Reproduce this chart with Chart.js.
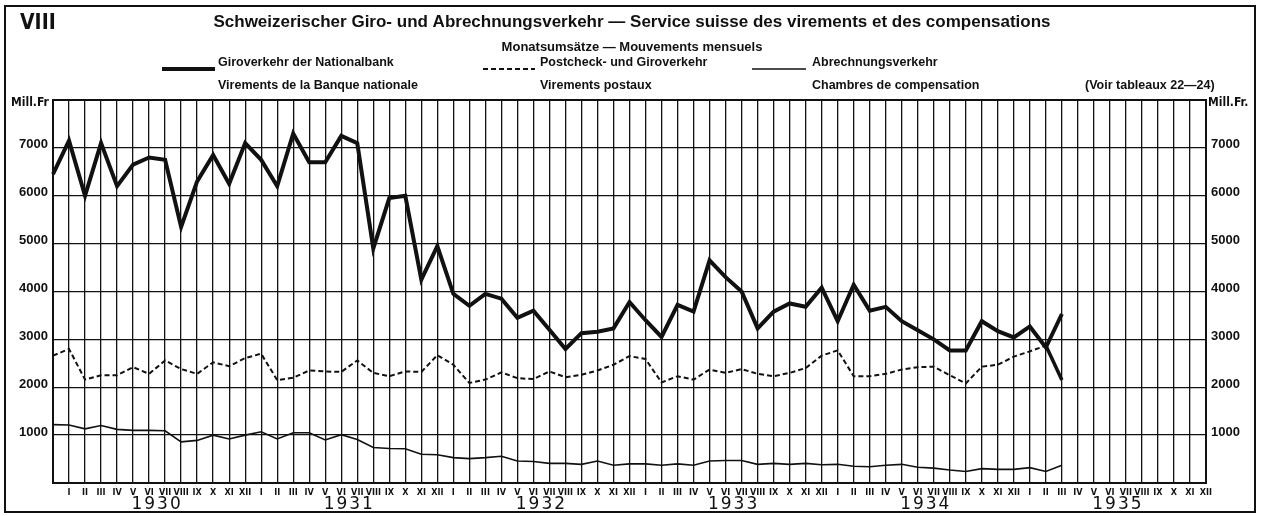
<!DOCTYPE html>
<html>
<head>
<meta charset="utf-8">
<script src="https://cdn.jsdelivr.net/npm/chart.js@4"></script>
<style>
html, body { margin: 0; padding: 0; background: #fff; }
#wrap { width: 1261px; height: 516px; }
</style>
</head>
<body>
<div id="wrap"><canvas id="chart"></canvas></div>
<script>
const years = ['1930', '1931', '1932', '1933', '1934', '1935'];
const monthNames = ['I', 'II', 'III', 'IV', 'V', 'VI', 'VII', 'VIII', 'IX', 'X', 'XI', 'XII'];
const yTicks = [1000, 2000, 3000, 4000, 5000, 6000, 7000];

// Mill. Fr., Dez. 1929 bis März 1935
const giro = [6450, 7150, 6000, 7100, 6200, 6650, 6800, 6750, 5350, 6300, 6850, 6250, 7100,
    6750, 6200, 7300, 6700, 6700, 7250, 7100, 4900, 5950, 6000, 4250, 4950,
    3950, 3700, 3950, 3850, 3450, 3600, 3200, 2800, 3130, 3160, 3230, 3780,
    3400, 3050, 3720, 3580, 4650, 4300, 4000, 3230, 3580, 3750, 3680, 4080,
    3380, 4140, 3600, 3680, 3380, 3190, 3000, 2770, 2770, 3380, 3170, 3040,
    3270, 2830, 3530];
const postal = [2660, 2800, 2160, 2250, 2250, 2420, 2280, 2560, 2380, 2280, 2520, 2440, 2610,
    2700, 2150, 2200, 2350, 2330, 2320, 2560, 2300, 2230, 2330, 2320, 2670,
    2470, 2090, 2160, 2310, 2190, 2170, 2330, 2210, 2260, 2350, 2470, 2650,
    2590, 2100, 2230, 2160, 2370, 2300, 2380, 2280, 2230, 2300, 2400, 2660,
    2770, 2230, 2230, 2280, 2370, 2420, 2430, 2250, 2080, 2430, 2470, 2640,
    2750, 2870, 2150];
const clearing = [1220, 1210, 1130, 1200, 1120, 1100, 1100, 1090, 860, 890, 1000, 920, 1000,
    1070, 920, 1050, 1050, 900, 1010, 910, 740, 720, 715, 600, 590,
    530, 510, 530, 560, 460, 450, 410, 410, 390, 460, 370, 400,
    400, 370, 400, 370, 460, 470, 470, 390, 410, 390, 410, 380,
    390, 350, 340, 370, 390, 330, 310, 270, 240, 300, 285, 285,
    320, 240, 370];

// erste Position = Dezember 1929 (ohne Beschriftung)
const labels = [''];
years.forEach(() => monthNames.forEach(m => labels.push(m)));

const INK = '#111';
const FONT = '"Liberation Sans", Arial, sans-serif';
const NARROW = '"Liberation Sans Narrow", "DejaVu Sans Condensed", sans-serif';

const decor = {
    id: 'decor',
    afterDraw(chart) {
        const { ctx, chartArea: a, scales: { x } } = chart;
        ctx.save();
        ctx.strokeStyle = INK;
        ctx.fillStyle = INK;

        // Rahmen
        ctx.lineWidth = 2;
        ctx.strokeRect(5, 6, 1250, 506);
        ctx.strokeRect(a.left, a.top, a.right - a.left, a.bottom - a.top);

        // Jahre
        ctx.font = '17px "DejaVu Sans", sans-serif';
        ctx.letterSpacing = '2px';
        ctx.textAlign = 'center';
        ctx.textBaseline = 'middle';
        years.forEach((y, i) => {
            const cx = (x.getPixelForValue(1 + i * 12) + x.getPixelForValue(12 + i * 12)) / 2;
            ctx.fillText(y, cx, 505);
        });
        ctx.letterSpacing = '0px';

        // Titel
        ctx.font = 'bold 21px ' + NARROW;
        ctx.textAlign = 'left';
        ctx.fillText('VIII', 20, 24);
        ctx.textAlign = 'center';
        ctx.font = 'bold 17px ' + FONT;
        ctx.fillText('Schweizerischer Giro- und Abrechnungsverkehr \u2014 Service suisse des virements et des compensations', 632, 22);
        ctx.font = 'bold 13px ' + FONT;
        ctx.fillText('Monatsums\u00e4tze \u2014 Mouvements mensuels', 632, 47);

        // Legende
        ctx.textAlign = 'left';
        ctx.font = 'bold 12.5px ' + FONT;
        const rows = [
            [162, 215, 218, 'Giroverkehr der Nationalbank', 'Virements de la Banque nationale', 4, []],
            [483, 535, 540, 'Postcheck- und Giroverkehr', 'Virements postaux', 2, [5, 3]],
            [752, 806, 812, 'Abrechnungsverkehr', 'Chambres de compensation', 1.6, []]
        ];
        rows.forEach(([x0, x1, tx, t1, t2, w, dash]) => {
            ctx.beginPath();
            ctx.lineWidth = w;
            ctx.setLineDash(dash);
            ctx.moveTo(x0, 69);
            ctx.lineTo(x1, 69);
            ctx.stroke();
            ctx.setLineDash([]);
            ctx.fillText(t1, tx, 63);
            ctx.fillText(t2, tx, 86);
        });
        ctx.fillText('(Voir tableaux 22\u201424)', 1085, 86);

        ctx.font = 'bold 12px ' + NARROW;
        ctx.fillText('Mill.Fr', 11, 103);
        ctx.fillText('Mill.Fr.', 1208, 103);
        ctx.restore();
    }
};

const yTickOpts = {
    stepSize: 1000,
    color: INK,
    padding: 5,
    labelOffset: -3,
    font: { family: FONT, size: 13, weight: 'bold' },
    callback: v => yTicks.includes(v) ? String(v) : ''
};

new Chart(document.getElementById('chart'), {
    type: 'line',
    data: {
        labels: labels,
        datasets: [{
            label: 'Giroverkehr der Nationalbank',
            data: giro,
            borderColor: INK,
            borderWidth: 4,
            borderJoinStyle: 'miter'
        }, {
            label: 'Postcheck- und Giroverkehr',
            data: postal,
            borderColor: INK,
            borderWidth: 2,
            borderDash: [5, 3],
            segment: {
                borderWidth: c => c.p1DataIndex === postal.length - 1 ? 3.5 : undefined,
                borderDash: c => c.p1DataIndex === postal.length - 1 ? [] : undefined
            }
        }, {
            label: 'Abrechnungsverkehr',
            data: clearing,
            borderColor: INK,
            borderWidth: 1.6
        }]
    },
    options: {
        responsive: true,
        maintainAspectRatio: false,
        animation: false,
        events: [],
        layout: { padding: { top: 100, left: 0, right: 0, bottom: 0 } },
        elements: { point: { radius: 0 }, line: { tension: 0 } },
        plugins: {
            legend: { display: false },
            tooltip: { enabled: false }
        },
        scales: {
            x: {
                offset: false,
                grid: { color: INK, lineWidth: 1.3, drawTicks: false, offset: false },
                border: { display: false },
                ticks: {
                    autoSkip: false,
                    maxRotation: 0,
                    padding: 4,
                    color: INK,
                    font: { family: NARROW, size: 9, weight: 'bold' }
                },
                afterFit: s => { s.height = 33; }
            },
            y: {
                position: 'left',
                min: 0,
                max: 8000,
                grid: { color: INK, lineWidth: 1.3, drawTicks: false },
                border: { display: false },
                ticks: yTickOpts,
                afterFit: s => { s.width = 53; }
            },
            y2: {
                position: 'right',
                min: 0,
                max: 8000,
                grid: { drawOnChartArea: false, drawTicks: false },
                border: { display: false },
                ticks: yTickOpts,
                afterFit: s => { s.width = 55; }
            }
        }
    },
    plugins: [decor]
});
</script>
</body>
</html>
